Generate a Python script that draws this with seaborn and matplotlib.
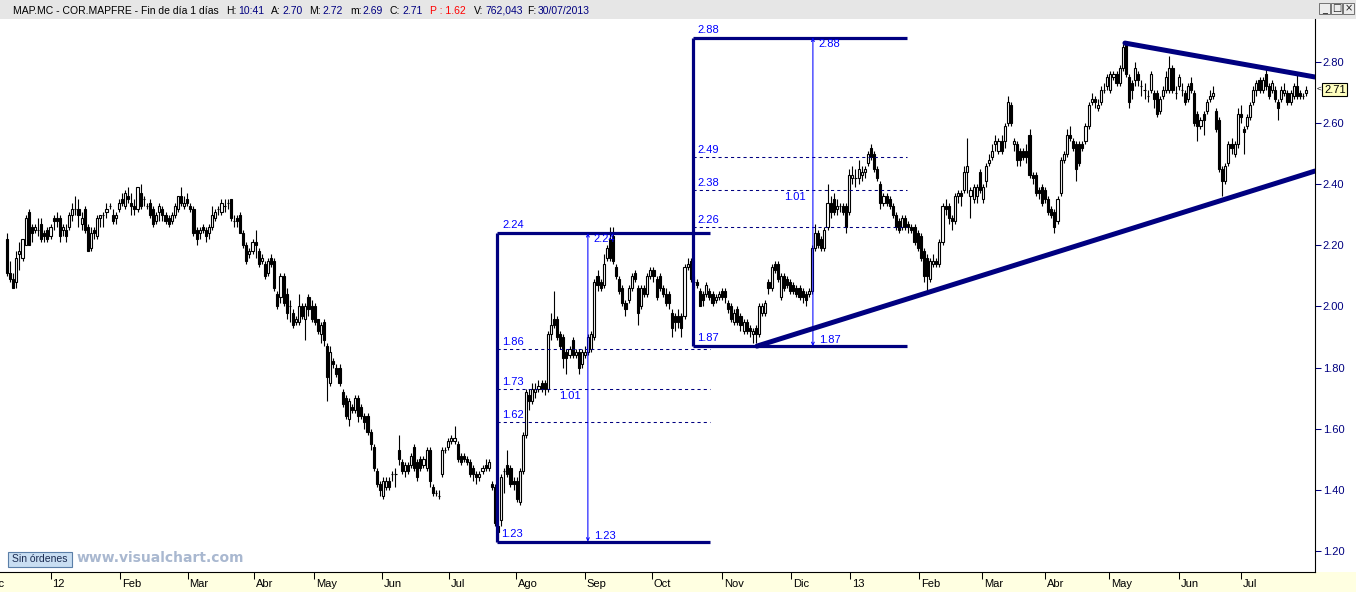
import matplotlib
matplotlib.use("Agg")
import matplotlib.pyplot as plt
import matplotlib.transforms as mtransforms
from matplotlib.patches import Rectangle
import numpy as np
import pandas as pd
import seaborn as sns

# ---------------- data (prices in euro cents) ----------------
opens = [
    222,211,209,208,217,216,220,231,226,225, 225,227,224,225,223,229,229,229,225,225,
    226,230,232,232,227,232,226,219,225,223, 229,230,231,233,230,229,232,235,233,236,
    234,233,232,237,235,233,234,232,228,231, 232,230,229,228,230,232,236,233,235,233,
    232,225,224,226,225,224,226,229,232,231, 233,234,235,228,229,230,224,220,217,218,
    221,218,215,214,211,216,215,204,203,210, 204,200,198,195,195,200,196,203,200,200,
    196,191,195,187,175,182,180,180,172,170, 163,167,166,170,167,164,164,159,154,146,
    142,138,141,143,145,145,153,149,146,148, 148,154,149,150,148,147,153,141,139,138,
    145,153,154,156,156,155,151,151,150,149, 147,145,144,146,148,147,142,141,128,130,
    146,148,147,143,143,136,146,158,171,169, 172,173,175,175,173,191,196,196,191,190,
    185,184,189,184,185,181,184,185,186,190, 210,208,207,216,222,223,213,209,206,201,
    202,206,211,206,200,206,204,210,212,209, 210,206,204,204,198,197,197,197,197,213,
    215,208,208,205,204,204,205,204,202,203, 205,205,201,200,195,199,197,192,195,193,
    191,193,191,198,198,208,206,214,214,203, 210,209,208,207,206,206,205,204,204,205,
    219,224,222,219,226,234,235,232,233,233, 233,231,242,242,242,243,244,247,252,250,
    245,240,234,236,235,233,230,228,226,229, 227,226,226,224,223,218,216,209,214,215,
    214,221,233,233,229,228,236,237,238,244, 236,235,236,244,235,241,247,249,253,251,
    254,254,260,266,253,253,251,251,251,256, 243,243,238,239,238,235,232,231,228,237,
    248,250,256,254,253,253,253,254,259,267, 268,265,267,271,272,271,275,276,273,278,
    286,275,273,274,276,272,271,269,271,270, 270,264,269,271,271,278,270,272,271,270,
    268,273,270,263,259,263,264,268,269,264, 261,245,241,247,253,250,253,263,258,259,
    262,267,271,274,271,276,272,271,271,267, 268,270,270,267,269,272,270,269,270,
]
closes = [
    211,209,206,216,218,222,229,220,224,226, 225,222,223,222,226,228,228,223,226,223,
    230,232,232,230,229,225,218,224,224,229, 230,230,232,233,228,230,234,234,237,235,
    233,232,239,233,235,233,230,227,230,233, 230,228,227,230,233,236,234,234,234,232,
    224,222,225,225,223,226,230,231,232,234, 233,234,229,228,228,224,220,215,218,221,
    220,214,216,210,215,214,206,200,210,201, 198,200,194,196,200,197,200,199,196,195,
    192,194,189,177,185,181,178,175,168,164, 169,166,170,164,164,162,159,155,147,142,
    140,143,143,141,145,145,150,146,148,146, 151,147,144,147,150,153,143,139,139,138,
    153,153,156,157,157,150,149,150,149,145, 145,144,145,147,147,149,141,129,126,144,
    146,145,142,142,137,146,158,172,169,173, 173,174,173,173,191,194,194,190,187,183,
    183,186,184,185,180,185,185,190,191,208, 207,206,214,219,216,215,210,205,201,199,
    206,210,209,198,206,204,210,212,210,203, 206,204,201,201,193,195,195,193,213,214,
    209,208,207,200,202,207,203,201,203,204, 203,203,199,196,198,195,194,195,192,192,
    192,191,200,200,201,206,213,212,209,210, 206,207,205,205,204,203,203,202,205,219,
    224,220,219,225,234,231,231,233,233,231, 226,243,243,242,245,244,245,250,249,245,
    242,234,236,234,233,230,226,225,229,226, 226,225,221,219,216,210,210,215,215,214,
    221,233,232,229,228,236,237,236,244,246, 238,239,239,238,239,246,248,251,254,254,
    251,259,267,260,254,248,248,249,249,243, 242,237,237,234,235,231,230,226,235,248,
    250,256,255,252,245,247,252,259,266,268, 267,266,271,271,275,276,276,273,278,285,
    276,267,271,278,274,272,271,269,276,268, 263,268,271,275,278,271,270,275,271,267,
    272,271,260,259,261,261,267,269,270,258, 245,241,246,253,252,253,263,262,257,262,
    266,271,273,271,274,272,269,273,268,265, 271,271,267,270,272,269,269,269,271,
]
highs = [
    224,215,211,218,221,222,230,232,227,227, 229,229,225,226,227,230,231,230,227,227,
    231,234,236,235,231,233,227,226,226,230, 230,231,234,234,232,231,235,237,238,239,
    237,235,239,240,236,234,235,233,231,234, 233,231,230,231,234,236,239,236,237,234,
    233,226,226,227,226,227,233,232,233,235, 235,235,235,230,230,231,225,221,219,222,
    225,219,217,215,216,217,216,205,211,211, 206,202,199,197,204,201,201,204,202,201,
    196,195,196,188,187,183,181,181,173,171, 170,168,171,171,168,165,165,160,155,147,
    143,144,144,144,146,147,158,150,149,149, 152,155,150,151,151,154,154,142,140,140,
    154,154,157,158,161,156,152,152,151,150, 148,146,146,148,150,150,143,142,129,145,
    147,153,148,144,144,147,159,173,173,175, 175,176,176,176,192,198,205,197,192,191,
    186,187,190,186,186,186,187,191,192,209, 212,209,217,220,226,226,214,210,207,202,
    207,211,212,207,207,207,211,213,213,210, 211,207,206,205,199,198,199,198,214,216,
    216,210,209,206,205,208,206,205,204,205, 206,206,202,201,199,200,198,196,196,194,
    193,194,201,201,202,209,214,215,215,211, 211,210,209,208,207,207,206,205,206,220,
    227,225,223,226,240,236,237,235,234,234, 234,245,246,245,248,246,246,251,253,251,
    246,241,237,237,236,234,231,229,230,230, 228,227,227,225,224,219,217,216,217,216,
    222,234,235,234,230,237,238,238,246,255, 239,240,240,245,240,247,250,253,256,255,
    256,260,269,267,255,254,252,252,253,258, 244,244,239,240,239,236,233,232,236,249,
    251,258,259,255,254,254,254,260,267,270, 269,268,272,273,276,277,277,277,279,286,
    287,276,274,280,277,274,273,271,277,271, 271,269,272,277,282,279,272,276,273,271,
    273,275,271,264,262,264,268,271,272,265, 262,246,247,254,255,254,265,266,259,263,
    267,272,274,275,275,278,273,274,272,268, 272,273,271,271,273,276,271,270,272,
]
lows = [
    210,208,206,206,212,215,220,220,221,224, 223,221,221,221,222,225,226,221,223,221,
    225,228,230,226,225,224,218,218,222,222, 226,226,229,232,227,227,231,233,232,234,
    230,230,231,232,233,232,229,226,227,228, 228,227,226,227,229,231,233,232,233,231,
    223,220,222,224,221,222,225,228,230,230, 231,232,228,226,226,224,219,214,216,217,
    216,213,214,209,210,213,205,199,201,200, 196,195,193,194,194,196,189,197,195,194,
    191,188,187,169,174,180,177,174,167,163, 161,165,165,162,163,160,158,153,146,141,
    138,137,140,140,143,141,148,145,144,145, 147,146,143,146,147,146,141,138,138,137,
    144,152,153,155,155,149,148,149,148,144, 143,142,143,145,146,146,140,128,124,128,
    139,144,141,140,136,135,145,157,166,168, 170,172,172,171,172,189,193,189,186,180,
    178,183,183,183,178,180,183,184,185,189, 205,205,206,215,215,214,209,204,200,197,
    201,205,208,194,199,203,203,209,208,202, 205,203,200,199,190,192,193,190,196,212,
    208,206,206,200,200,203,202,200,201,202, 202,201,198,195,194,194,192,191,191,190,
    188,188,190,197,197,204,205,211,208,202, 205,206,204,204,203,202,201,200,203,204,
    218,219,218,218,225,229,230,230,231,230, 224,230,240,239,240,241,242,246,248,244,
    241,232,233,233,232,229,225,224,225,225, 224,224,220,218,215,208,204,208,213,213,
    213,220,230,227,225,227,234,233,237,237, 229,234,234,237,234,239,246,248,251,250,
    250,252,259,259,251,246,246,248,247,242, 240,236,235,233,234,230,229,224,227,236,
    247,249,254,251,241,246,251,253,258,266, 265,264,266,270,271,270,274,272,272,277,
    275,265,268,272,272,269,268,267,270,265, 262,263,268,270,270,270,268,271,269,266,
    267,270,259,254,258,256,263,267,268,257, 244,236,240,246,250,249,252,260,250,258,
    261,266,269,270,270,271,268,270,267,261, 267,269,266,266,268,268,268,268,269,
]

# month ticks (position in trading-day index) and labels
month_tick_idx = [14.0, 36.5, 58.1, 79.6, 98.7, 120.7, 142.1, 163.9, 185.9, 207.5,
                  230.0, 252.3, 271.3, 293.5, 313.6, 334.0, 354.5, 377.0, 397.0]
month_labels = ["12", "Feb", "Mar", "Abr", "May", "Jun", "Jul", "Ago", "Sep", "Oct",
                "Nov", "Dic", "13", "Feb", "Mar", "Abr", "May", "Jun", "Jul"]
prev_month_idx = -6.8
prev_month_label = "Dic"

price_ticks = [1.20, 1.40, 1.60, 1.80, 2.00, 2.20, 2.40, 2.60, 2.80]

# Fibonacci boxes
fib1_x = [157.7, 226.2]
fib1_arrow_x = 186.9
fib1_hi, fib1_lo = 2.24, 1.23
fib1_levels = [1.86, 1.73, 1.62]
fib1_ratio_level = 1.73
fib2_x = [220.7, 289.6]
fib2_arrow_x = 259.3
fib2_hi, fib2_lo = 2.88, 1.87
fib2_levels = [2.49, 2.38, 2.26]
fib2_ratio_level = 2.38
ratio_text = "1.01"

# trend lines
trend_low_x = [241.3, 420.8]
trend_low_y = [1.87, 2.443]
trend_high_x = [359.7, 420.8]
trend_high_y = [2.862, 2.751]

header_info = {"H": "10:41", "P": "1.62", "V": "762,043", "F": "30/07/2013"}

# ---------------- styling ----------------
sns.set_theme(style="white")
plt.rcParams["font.family"] = ["Liberation Sans", "DejaVu Sans"]

n = len(closes)
assert len(opens) == n and len(highs) == n and len(lows) == n, (len(opens), len(highs), len(lows), n)

df = pd.DataFrame({
    "idx": np.arange(n),
    "open": np.array(opens) / 100.0,
    "high": np.array(highs) / 100.0,
    "low": np.array(lows) / 100.0,
    "close": np.array(closes) / 100.0,
})
df["up"] = df["close"] >= df["open"]
df["bottom"] = df[["open", "close"]].min(axis=1)
df["height"] = (df["close"] - df["open"]).abs()

NAVY = "#000080"
BLUE = "#0000ff"
W, H = 1356, 592
fig = plt.figure(figsize=(W / 100, H / 100), dpi=100)
fig.patch.set_facecolor("#ffffe1")

def fx(px):
    return px / W

def fy(py):
    return 1 - py / H

# header bar and right white column
fig.patches.append(Rectangle((0, fy(19)), 1, 19 / H, transform=fig.transFigure,
                             facecolor="#e6e6e6", edgecolor="none", zorder=-2))
fig.patches.append(Rectangle((fx(1315), fy(572)), (W - 1315) / W, (572 - 19) / H,
                             transform=fig.transFigure, facecolor="white",
                             edgecolor="none", zorder=-2))

ax = fig.add_axes([0, fy(572), fx(1315), (572 - 19) / H])
ax.set_facecolor("white")

# candles
ax.vlines(df["idx"], df["low"], df["high"], color="black", lw=0.8, zorder=2)
ax.bar(df["idx"], df["height"], bottom=df["bottom"], width=0.68,
       color=np.where(df["up"], "white", "black"), edgecolor="black",
       linewidth=0.8, zorder=3)

# fibonacci boxes
def fib_box(xr, ax_x, hi, lo, levels, ratio_level):
    ax.vlines(xr[0], lo, hi, color=NAVY, lw=2.3, zorder=4)
    ax.hlines([hi, lo], xr[0], xr[1], color=NAVY, lw=2.3, zorder=4)
    ax.hlines(levels, xr[0], xr[1], color=NAVY, lw=0.75,
              linestyles=[(0, (3, 3))], zorder=4)
    ax.annotate("", xy=(ax_x, hi), xytext=(ax_x, lo),
                arrowprops=dict(arrowstyle="<->", color=BLUE, lw=0.75,
                                mutation_scale=5, shrinkA=0, shrinkB=0), zorder=4)
    kw = dict(textcoords="offset pixels", color=BLUE, fontsize=8, zorder=5)
    ax.annotate(f"{hi:.2f}", xy=(xr[0], hi), xytext=(5, 3), ha="left", va="bottom", **kw)
    ax.annotate(f"{lo:.2f}", xy=(xr[0], lo), xytext=(4, 3), ha="left", va="bottom", **kw)
    for lv in levels:
        ax.annotate(f"{lv:.2f}", xy=(xr[0], lv), xytext=(5, 2), ha="left", va="bottom", **kw)
    ax.annotate(f"{hi:.2f}", xy=(ax_x, hi), xytext=(6, -1), ha="left", va="top", **kw)
    ax.annotate(f"{lo:.2f}", xy=(ax_x, lo), xytext=(6, 1), ha="left", va="bottom", **kw)
    ax.annotate(ratio_text, xy=(ax_x, ratio_level), xytext=(-7, -2), ha="right", va="top", **kw)

fib_box(fib1_x, fib1_arrow_x, fib1_hi, fib1_lo, fib1_levels, fib1_ratio_level)
fib_box(fib2_x, fib2_arrow_x, fib2_hi, fib2_lo, fib2_levels, fib2_ratio_level)

# trend lines
sns.lineplot(x=trend_low_x, y=trend_low_y, ax=ax, color=NAVY, lw=3.6, zorder=6)
sns.lineplot(x=trend_high_x, y=trend_high_y, ax=ax, color=NAVY, lw=3.6, zorder=6)

# axes limits: pixel mapping
ax.set_xlim(-2.25, 420.85)
ax.set_ylim(1.1306, 2.9408)
ax.set_xlabel("")
ax.set_ylabel("")

for s in ["top", "left"]:
    ax.spines[s].set_visible(False)
for s in ["right", "bottom"]:
    ax.spines[s].set_visible(True)
    ax.spines[s].set_color("black")
    ax.spines[s].set_linewidth(0.8)

# y axis on right
ax.yaxis.tick_right()
ax.set_yticks(price_ticks)
ax.set_yticklabels([f"{v:.2f}" for v in price_ticks])
ax.tick_params(axis="y", which="both", right=True, left=False, direction="out",
               length=4.5, width=0.75, color=NAVY, labelcolor=NAVY, labelsize=8, pad=1)

# x axis months
ax.set_xticks(month_tick_idx)
ax.set_xticklabels(month_labels)
ax.tick_params(axis="x", which="both", bottom=True, direction="out", length=5,
               width=0.75, color="black", labelcolor="black", labelsize=8, pad=0)
shift = mtransforms.ScaledTranslation(2 / 100, 0, fig.dpi_scale_trans)
for lab in ax.get_xticklabels():
    lab.set_horizontalalignment("left")
    lab.set_transform(lab.get_transform() + shift)
ax.annotate(prev_month_label, xy=(prev_month_idx, 0), xycoords=("data", "axes fraction"),
            xytext=(2, -7), textcoords="offset pixels", ha="left", va="top",
            fontsize=8, color="black", annotation_clip=False)

# current price tag
last = df.iloc[-1]
tag_tr = mtransforms.blended_transform_factory(ax.transAxes, ax.transData)
ax.annotate(f"{last['close']:.2f}", xy=(1.0, last["close"]), xycoords=tag_tr,
            xytext=(9, 0), textcoords="offset pixels", ha="left", va="center",
            fontsize=8, color="black", annotation_clip=False,
            bbox=dict(boxstyle="square,pad=0.15", facecolor="#ffffc0",
                      edgecolor="black", linewidth=0.8))
ax.annotate("<", xy=(1.0, last["close"]), xycoords=tag_tr, xytext=(2, 0),
            textcoords="offset pixels", ha="left", va="center", fontsize=6,
            color="black", annotation_clip=False)

# header text (baseline aligned)
pieces = [
    (13, "MAP.MC - COR.MAPFRE - Fin de día 1 días", "black"),
    (226, "H:", "black"), (238, header_info["H"], NAVY),
    (271, "A:", "black"), (282, f"{last['open']:.2f}", NAVY),
    (309, "M:", "black"), (322, f"{last['high']:.2f}", NAVY),
    (350, "m:", "black"), (362, f"{last['low']:.2f}", NAVY),
    (390, "C:", "black"), (402, f"{last['close']:.2f}", NAVY),
    (430, f"P : {header_info['P']}", "#ff0000"),
    (474, "V:", "black"), (485, header_info["V"], NAVY),
    (527, "F:", "black"), (538, header_info["F"], NAVY),
]
for px, txt, col in pieces:
    fig.text(fx(px), fy(13.5), txt, color=col, fontsize=7.5, ha="left", va="baseline")

# window buttons
for i, g in enumerate(["_", "□", "×"]):
    x0 = 1319 + i * 12
    fig.patches.append(Rectangle((fx(x0), fy(14)), 11 / W, 11 / H, transform=fig.transFigure,
                                 facecolor="#ececec", edgecolor="#606060", lw=0.6, zorder=1))
    fig.text(fx(x0 + 5.5), fy(8.5), g, fontsize=7, ha="center", va="center",
             color="#202020", family=["DejaVu Sans"])

# bottom-left widgets
fig.patches.append(Rectangle((fx(8), fy(567)), 64 / W, 15 / H, transform=fig.transFigure,
                             facecolor="#c9def2", edgecolor="#5b7fa8", lw=0.8, zorder=7))
fig.text(fx(40), fy(559.5), "Sin órdenes", fontsize=7.5, ha="center", va="center",
         color="#1a2a50", zorder=8)
fig.text(fx(77), fy(558.5), "www.visualchart.com", fontsize=10, fontweight="bold",
         ha="left", va="center", color="#a9b8d0", family=["DejaVu Sans"], zorder=8)

fig.savefig("out.png", dpi=100, facecolor=fig.get_facecolor())
